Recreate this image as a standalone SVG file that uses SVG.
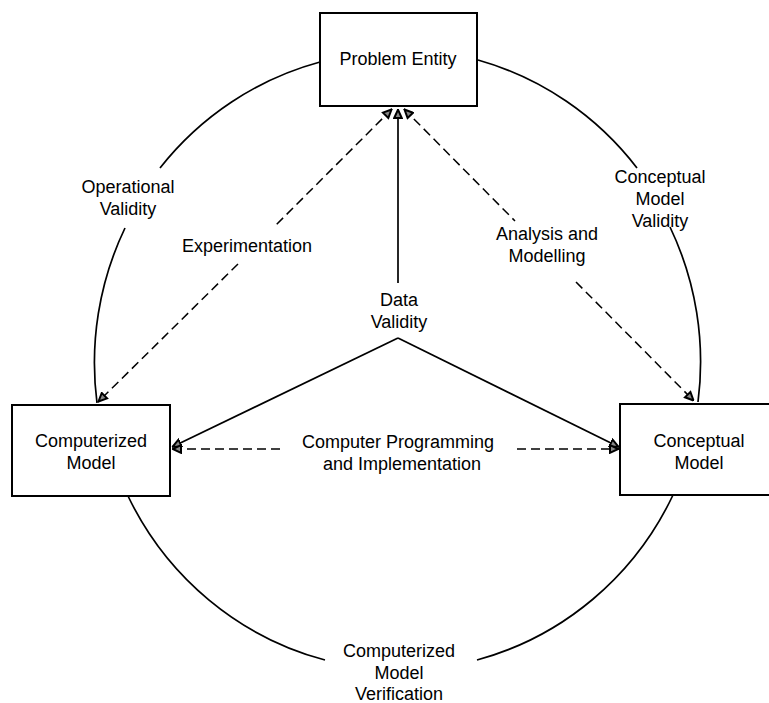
<svg xmlns="http://www.w3.org/2000/svg" width="769" height="703" viewBox="0 0 769 703">
<style>
.box{fill:#fff;stroke:#000;stroke-width:2}
.t{font-family:"Liberation Sans",Arial,sans-serif;font-size:18px;fill:#000;text-anchor:middle}
.arc{fill:none;stroke:#000;stroke-width:1.7}
.sol{fill:none;stroke:#000;stroke-width:1.7}
.dash{fill:none;stroke:#000;stroke-width:1.5;stroke-dasharray:9 5}
</style>
<defs>
<marker id="ah" viewBox="0 0 10 10" refX="10" refY="5" markerWidth="10" markerHeight="10" markerUnits="userSpaceOnUse" orient="auto-start-reverse">
<path d="M1,1.2 L9.3,5 L1,8.8 z" fill="#888" stroke="#000" stroke-width="2"/>
</marker>
</defs>
<rect width="769" height="703" fill="#fff"/>
<g id="connectors">
<path class="arc" d="M320,62 A305,309 0 0 0 160,168"/>
<path class="arc" d="M125,228 A305,309 0 0 0 97,403"/>
<path class="arc" d="M128,496 A305,309 0 0 0 325,660"/>
<path class="arc" d="M477,660 A305,309 0 0 0 673,495"/>
<path class="arc" d="M698,402 A305,309 0 0 0 670,227"/>
<path class="arc" d="M637,168 A305,309 0 0 0 478,60"/>
<path class="sol" d="M398,283 L398,109" marker-end="url(#ah)"/>
<path class="sol" d="M398,338 L172,447" marker-end="url(#ah)"/>
<path class="sol" d="M398,338 L619,447" marker-end="url(#ah)"/>
<path class="dash" d="M392,109 L275,226" marker-start="url(#ah)"/>
<path class="dash" d="M238,264 L98,402" marker-end="url(#ah)"/>
<path class="dash" d="M404,109 L515,221" marker-start="url(#ah)"/>
<path class="dash" d="M576,282 L694,401" marker-end="url(#ah)"/>
<path class="dash" d="M280,449 L172,449" marker-end="url(#ah)"/>
<path class="dash" d="M517,449 L619,449" marker-end="url(#ah)"/>
</g>
<g id="problem-entity">
<rect class="box" x="320" y="13" width="157" height="93"/>
<text class="t" x="398" y="65">Problem Entity</text>
</g>
<g id="computerized-model">
<rect class="box" x="12" y="405" width="158" height="91"/>
<text class="t" x="91" y="447">Computerized</text>
<text class="t" x="91" y="469">Model</text>
</g>
<g id="conceptual-model">
<rect class="box" x="620" y="404" width="158" height="91"/>
<text class="t" x="699" y="447">Conceptual</text>
<text class="t" x="699" y="469">Model</text>
</g>
<g id="labels">
<text class="t" x="128" y="193">Operational</text>
<text class="t" x="128" y="215">Validity</text>
<text class="t" x="247" y="252">Experimentation</text>
<text class="t" x="547" y="240">Analysis and</text>
<text class="t" x="547" y="262">Modelling</text>
<text class="t" x="660" y="183">Conceptual</text>
<text class="t" x="660" y="205">Model</text>
<text class="t" x="660" y="227">Validity</text>
<text class="t" x="399" y="306">Data</text>
<text class="t" x="399" y="328">Validity</text>
<text class="t" x="398" y="448">Computer Programming</text>
<text class="t" x="402" y="470">and Implementation</text>
<text class="t" x="399" y="657">Computerized</text>
<text class="t" x="399" y="679">Model</text>
<text class="t" x="399" y="700">Verification</text>
</g>
</svg>
